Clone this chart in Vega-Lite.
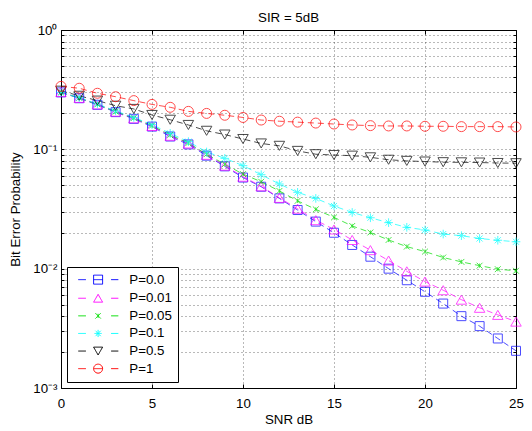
{
  "$schema": "https://vega.github.io/schema/vega-lite/v6.json",
  "width": 455,
  "height": 358,
  "autosize": {"type": "none"},
  "padding": {"left": 61, "top": 30, "right": 16, "bottom": 43},
  "background": "white",
  "title": {"text": "SIR = 5dB", "font": "Liberation Sans", "fontSize": 13.3, "fontWeight": "normal", "color": "black", "offset": 4, "dy": 5},
  "config": {
    "view": {"stroke": "black", "strokeWidth": 1},
    "axis": {
      "labelFont": "Liberation Sans", "labelFontSize": 13.3, "labelColor": "black",
      "titleFont": "Liberation Sans", "titleFontSize": 13.3, "titleFontWeight": "normal", "titleColor": "black",
      "domainColor": "black", "tickColor": "black", "tickWidth": 1,
      "gridColor": "#000000", "gridDash": [1, 3], "gridOpacity": 0.55, "gridWidth": 1
    },
    "legend": {
      "labelFont": "Liberation Sans", "labelFontSize": 13.3, "labelColor": "black"
    }
  },
  "data": {"values": [
    {"p":"P=0.0","snr":0,"ber":0.300},{"p":"P=0.0","snr":1,"ber":0.268},{"p":"P=0.0","snr":2,"ber":0.236},{"p":"P=0.0","snr":3,"ber":0.205},{"p":"P=0.0","snr":4,"ber":0.180},{"p":"P=0.0","snr":5,"ber":0.155},{"p":"P=0.0","snr":6,"ber":0.128},{"p":"P=0.0","snr":7,"ber":0.110},{"p":"P=0.0","snr":8,"ber":0.0885},{"p":"P=0.0","snr":9,"ber":0.072},{"p":"P=0.0","snr":10,"ber":0.058},{"p":"P=0.0","snr":11,"ber":0.0486},{"p":"P=0.0","snr":12,"ber":0.0388},{"p":"P=0.0","snr":13,"ber":0.031},{"p":"P=0.0","snr":14,"ber":0.0248},{"p":"P=0.0","snr":15,"ber":0.020},{"p":"P=0.0","snr":16,"ber":0.0158},{"p":"P=0.0","snr":17,"ber":0.0126},{"p":"P=0.0","snr":18,"ber":0.0100},{"p":"P=0.0","snr":19,"ber":0.0080},{"p":"P=0.0","snr":20,"ber":0.0064},{"p":"P=0.0","snr":21,"ber":0.0051},{"p":"P=0.0","snr":22,"ber":0.0040},{"p":"P=0.0","snr":23,"ber":0.0033},{"p":"P=0.0","snr":24,"ber":0.0026},{"p":"P=0.0","snr":25,"ber":0.00205},
    {"p":"P=0.01","snr":0,"ber":0.302},{"p":"P=0.01","snr":1,"ber":0.270},{"p":"P=0.01","snr":2,"ber":0.238},{"p":"P=0.01","snr":3,"ber":0.207},{"p":"P=0.01","snr":4,"ber":0.182},{"p":"P=0.01","snr":5,"ber":0.157},{"p":"P=0.01","snr":6,"ber":0.130},{"p":"P=0.01","snr":7,"ber":0.112},{"p":"P=0.01","snr":8,"ber":0.090},{"p":"P=0.01","snr":9,"ber":0.073},{"p":"P=0.01","snr":10,"ber":0.059},{"p":"P=0.01","snr":11,"ber":0.049},{"p":"P=0.01","snr":12,"ber":0.0392},{"p":"P=0.01","snr":13,"ber":0.0318},{"p":"P=0.01","snr":14,"ber":0.0255},{"p":"P=0.01","snr":15,"ber":0.0213},{"p":"P=0.01","snr":16,"ber":0.0174},{"p":"P=0.01","snr":17,"ber":0.0143},{"p":"P=0.01","snr":18,"ber":0.0117},{"p":"P=0.01","snr":19,"ber":0.0095},{"p":"P=0.01","snr":20,"ber":0.0078},{"p":"P=0.01","snr":21,"ber":0.0066},{"p":"P=0.01","snr":22,"ber":0.0055},{"p":"P=0.01","snr":23,"ber":0.0047},{"p":"P=0.01","snr":24,"ber":0.0041},{"p":"P=0.01","snr":25,"ber":0.0036},
    {"p":"P=0.05","snr":0,"ber":0.300},{"p":"P=0.05","snr":1,"ber":0.270},{"p":"P=0.05","snr":2,"ber":0.238},{"p":"P=0.05","snr":3,"ber":0.207},{"p":"P=0.05","snr":4,"ber":0.183},{"p":"P=0.05","snr":5,"ber":0.158},{"p":"P=0.05","snr":6,"ber":0.132},{"p":"P=0.05","snr":7,"ber":0.113},{"p":"P=0.05","snr":8,"ber":0.091},{"p":"P=0.05","snr":9,"ber":0.075},{"p":"P=0.05","snr":10,"ber":0.062},{"p":"P=0.05","snr":11,"ber":0.0535},{"p":"P=0.05","snr":12,"ber":0.0448},{"p":"P=0.05","snr":13,"ber":0.037},{"p":"P=0.05","snr":14,"ber":0.0314},{"p":"P=0.05","snr":15,"ber":0.0269},{"p":"P=0.05","snr":16,"ber":0.0228},{"p":"P=0.05","snr":17,"ber":0.0201},{"p":"P=0.05","snr":18,"ber":0.0174},{"p":"P=0.05","snr":19,"ber":0.0153},{"p":"P=0.05","snr":20,"ber":0.0139},{"p":"P=0.05","snr":21,"ber":0.0124},{"p":"P=0.05","snr":22,"ber":0.0114},{"p":"P=0.05","snr":23,"ber":0.0106},{"p":"P=0.05","snr":24,"ber":0.0099},{"p":"P=0.05","snr":25,"ber":0.0096},
    {"p":"P=0.1","snr":0,"ber":0.300},{"p":"P=0.1","snr":1,"ber":0.271},{"p":"P=0.1","snr":2,"ber":0.240},{"p":"P=0.1","snr":3,"ber":0.210},{"p":"P=0.1","snr":4,"ber":0.185},{"p":"P=0.1","snr":5,"ber":0.161},{"p":"P=0.1","snr":6,"ber":0.136},{"p":"P=0.1","snr":7,"ber":0.116},{"p":"P=0.1","snr":8,"ber":0.095},{"p":"P=0.1","snr":9,"ber":0.084},{"p":"P=0.1","snr":10,"ber":0.073},{"p":"P=0.1","snr":11,"ber":0.0613},{"p":"P=0.1","snr":12,"ber":0.0512},{"p":"P=0.1","snr":13,"ber":0.0436},{"p":"P=0.1","snr":14,"ber":0.0388},{"p":"P=0.1","snr":15,"ber":0.0335},{"p":"P=0.1","snr":16,"ber":0.0296},{"p":"P=0.1","snr":17,"ber":0.0267},{"p":"P=0.1","snr":18,"ber":0.0243},{"p":"P=0.1","snr":19,"ber":0.0222},{"p":"P=0.1","snr":20,"ber":0.0211},{"p":"P=0.1","snr":21,"ber":0.0195},{"p":"P=0.1","snr":22,"ber":0.0189},{"p":"P=0.1","snr":23,"ber":0.0179},{"p":"P=0.1","snr":24,"ber":0.0173},{"p":"P=0.1","snr":25,"ber":0.0168},
    {"p":"P=0.5","snr":0,"ber":0.310},{"p":"P=0.5","snr":1,"ber":0.281},{"p":"P=0.5","snr":2,"ber":0.256},{"p":"P=0.5","snr":3,"ber":0.232},{"p":"P=0.5","snr":4,"ber":0.218},{"p":"P=0.5","snr":5,"ber":0.194},{"p":"P=0.5","snr":6,"ber":0.177},{"p":"P=0.5","snr":7,"ber":0.160},{"p":"P=0.5","snr":8,"ber":0.143},{"p":"P=0.5","snr":9,"ber":0.133},{"p":"P=0.5","snr":10,"ber":0.122},{"p":"P=0.5","snr":11,"ber":0.112},{"p":"P=0.5","snr":12,"ber":0.107},{"p":"P=0.5","snr":13,"ber":0.097},{"p":"P=0.5","snr":14,"ber":0.091},{"p":"P=0.5","snr":15,"ber":0.0896},{"p":"P=0.5","snr":16,"ber":0.0885},{"p":"P=0.5","snr":17,"ber":0.0857},{"p":"P=0.5","snr":18,"ber":0.0818},{"p":"P=0.5","snr":19,"ber":0.080},{"p":"P=0.5","snr":20,"ber":0.079},{"p":"P=0.5","snr":21,"ber":0.078},{"p":"P=0.5","snr":22,"ber":0.0778},{"p":"P=0.5","snr":23,"ber":0.0775},{"p":"P=0.5","snr":24,"ber":0.0768},{"p":"P=0.5","snr":25,"ber":0.0765},
    {"p":"P=1","snr":0,"ber":0.337},{"p":"P=1","snr":1,"ber":0.325},{"p":"P=1","snr":2,"ber":0.295},{"p":"P=1","snr":3,"ber":0.276},{"p":"P=1","snr":4,"ber":0.256},{"p":"P=1","snr":5,"ber":0.238},{"p":"P=1","snr":6,"ber":0.225},{"p":"P=1","snr":7,"ber":0.208},{"p":"P=1","snr":8,"ber":0.200},{"p":"P=1","snr":9,"ber":0.193},{"p":"P=1","snr":10,"ber":0.185},{"p":"P=1","snr":11,"ber":0.176},{"p":"P=1","snr":12,"ber":0.172},{"p":"P=1","snr":13,"ber":0.169},{"p":"P=1","snr":14,"ber":0.166},{"p":"P=1","snr":15,"ber":0.163},{"p":"P=1","snr":16,"ber":0.160},{"p":"P=1","snr":17,"ber":0.158},{"p":"P=1","snr":18,"ber":0.157},{"p":"P=1","snr":19,"ber":0.157},{"p":"P=1","snr":20,"ber":0.156},{"p":"P=1","snr":21,"ber":0.156},{"p":"P=1","snr":22,"ber":0.155},{"p":"P=1","snr":23,"ber":0.155},{"p":"P=1","snr":24,"ber":0.155},{"p":"P=1","snr":25,"ber":0.154}
  ]},
  "encoding": {
    "x": {"field": "snr", "type": "quantitative", "scale": {"domain": [0, 25], "nice": false, "zero": false}, "axis": null},
    "y": {"field": "ber", "type": "quantitative", "scale": {"type": "log", "domain": [0.001, 1], "nice": false}, "axis": null},
    "color": {
      "field": "p", "type": "nominal",
      "scale": {"domain": ["P=0.0","P=0.01","P=0.05","P=0.1","P=0.5","P=1"], "range": ["#0000ff","#ff00ff","#00dd00","#00ffff","#000000","#ff0000"]},
      "legend": {
        "title": null, "orient": "bottom-left", "offset": 6, "padding": 6,
        "strokeColor": "black", "fillColor": "white",
        "symbolSize": 81, "symbolStrokeWidth": 1, "symbolFillColor": "transparent",
        "labelOffset": 43, "rowPadding": 3.6,
        "encode": {"symbols": {"update": {"strokeDash": {"value": [1, 0]}}}}
      }
    }
  },
  "layer": [
    {
      "mark": {"type": "line", "strokeWidth": 0.7, "strokeDash": [6, 4]},
      "encoding": {
        "x": {"field": "snr", "type": "quantitative", "scale": {"domain": [0, 25], "nice": false, "zero": false},
          "axis": {"orient": "bottom", "title": "SNR dB", "values": [0,5,10,15,20,25], "grid": true, "tickSize": -4, "labelPadding": 12, "labelFlush": false, "domain": false, "titlePadding": 3}},
        "y": {"field": "ber", "type": "quantitative", "scale": {"type": "log", "domain": [0.001, 1], "nice": false},
          "axis": {"orient": "left", "title": "Bit Error Probability",
            "values": [0.001,0.002,0.003,0.004,0.005,0.006,0.007,0.008,0.009,0.01,0.02,0.03,0.04,0.05,0.06,0.07,0.08,0.09,0.1,0.2,0.3,0.4,0.5,0.6,0.7,0.8,0.9,1],
            "labelExpr": "datum.value==1 ? '10⁰' : datum.value==0.1 ? '10⁻¹' : datum.value==0.01 ? '10⁻²' : datum.value==0.001 ? '10⁻³' : ''",
            "labelOverlap": false, "grid": true, "tickSize": -3, "labelPadding": 7, "domain": false, "titlePadding": 10}}
      }
    },
    {
      "transform": [{"filter": {"field": "p", "equal": "none"}}],
      "mark": {"type": "point", "filled": false, "strokeWidth": 1},
      "encoding": {
        "shape": {"field": "p", "type": "nominal",
          "scale": {"domain": ["P=0.0","P=0.01","P=0.05","P=0.1","P=0.5","P=1"],
            "range": [
              "M-0.3,0H1.4M7,0H8.6M3.1,-1H5.1V1H3.1ZM3.1,0H5.1",
              "M-0.3,0H1.4M7,0H8.6M3.1,0.87L4.1,-0.87L5.1,0.87Z",
              "M-0.3,0H1.4M7,0H8.6M3.5,-0.6L4.7,0.6M3.5,0.6L4.7,-0.6M4.1,-0.45V0.45",
              "M-0.3,0H1.4M7,0H8.6M4.1,-0.8V0.8M3.3,0H4.9M3.5,-0.6L4.7,0.6M3.5,0.6L4.7,-0.6",
              "M-0.3,0H1.4M7,0H8.6M3.1,-0.87L4.1,0.87L5.1,-0.87Z",
              "M-0.3,0H1.4M7,0H8.6M5.1,0A1,1,0,1,1,3.1,0A1,1,0,1,1,5.1,0ZM3.1,0H5.1"
            ]},
          "legend": {"title": null}}
      }
    },
    {
      "transform": [{"filter": {"field": "p", "equal": "P=0.0"}}],
      "mark": {"type": "point", "filled": false, "strokeWidth": 1, "shape": "square", "size": 81},
      "encoding": {
        "x": {"field": "snr", "type": "quantitative", "scale": {"domain": [0, 25], "nice": false, "zero": false},
          "axis": {"orient": "top", "title": null, "values": [0,5,10,15,20,25], "labels": false, "grid": false, "tickSize": -4, "domain": false}},
        "y": {"field": "ber", "type": "quantitative", "scale": {"type": "log", "domain": [0.001, 1], "nice": false},
          "axis": {"orient": "right", "title": null,
            "values": [0.001,0.002,0.003,0.004,0.005,0.006,0.007,0.008,0.009,0.01,0.02,0.03,0.04,0.05,0.06,0.07,0.08,0.09,0.1,0.2,0.3,0.4,0.5,0.6,0.7,0.8,0.9,1],
            "labels": false, "grid": false, "tickSize": -3, "domain": false}}
      }
    },
    {
      "transform": [{"filter": {"field": "p", "equal": "P=0.01"}}],
      "mark": {"type": "point", "filled": false, "strokeWidth": 1, "shape": "triangle-up", "size": 110}
    },
    {
      "transform": [{"filter": {"field": "p", "equal": "P=0.05"}}],
      "mark": {"type": "point", "filled": false, "strokeWidth": 1, "shape": "M-0.7,-0.7L0.7,0.7M-0.7,0.7L0.7,-0.7M0,-0.5V0.5", "size": 70}
    },
    {
      "transform": [{"filter": {"field": "p", "equal": "P=0.1"}}],
      "mark": {"type": "point", "filled": false, "strokeWidth": 1, "shape": "M0,-1V1M-1,0H1M-0.7,-0.7L0.7,0.7M-0.7,0.7L0.7,-0.7", "size": 75}
    },
    {
      "transform": [{"filter": {"field": "p", "equal": "P=0.5"}}],
      "mark": {"type": "point", "filled": false, "strokeWidth": 1, "shape": "triangle-down", "size": 110}
    },
    {
      "transform": [{"filter": {"field": "p", "equal": "P=1"}}],
      "mark": {"type": "point", "filled": false, "strokeWidth": 1, "shape": "circle", "size": 100}
    }
  ],
  "resolve": {"axis": {"x": "independent", "y": "independent"}}
}
